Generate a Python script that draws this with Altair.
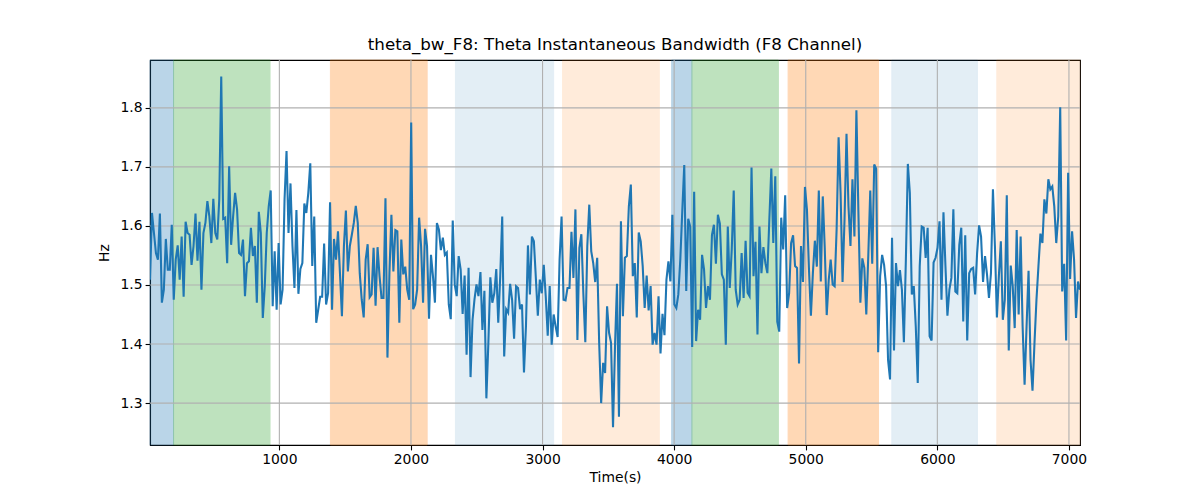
import altair as alt
import pandas as pd

T_START = 17.0
T_END = 7084.0

hz = [
    1.509, 1.622, 1.588, 1.554, 1.543, 1.621, 1.470, 1.492, 1.578, 1.526,
    1.526, 1.602, 1.475, 1.543, 1.567, 1.509, 1.582, 1.480, 1.607, 1.588,
    1.585, 1.534, 1.566, 1.621, 1.541, 1.607, 1.492, 1.588, 1.605, 1.642,
    1.616, 1.571, 1.646, 1.588, 1.577, 1.645, 1.853, 1.612, 1.614, 1.537,
    1.701, 1.568, 1.616, 1.656, 1.628, 1.554, 1.551, 1.577, 1.481, 1.537,
    1.540, 1.597, 1.549, 1.566, 1.470, 1.624, 1.588, 1.444, 1.498, 1.588,
    1.633, 1.660, 1.464, 1.557, 1.458, 1.571, 1.467, 1.492, 1.645, 1.727,
    1.588, 1.672, 1.566, 1.495, 1.627, 1.485, 1.527, 1.537, 1.638, 1.622,
    # segment 2
    1.656, 1.706, 1.532, 1.616, 1.436, 1.458, 1.480, 1.480, 1.570, 1.467,
    1.486, 1.640, 1.458, 1.578, 1.543, 1.591, 1.520, 1.447, 1.566, 1.626,
    1.523, 1.566, 1.585, 1.605, 1.634, 1.605, 1.520, 1.475, 1.445, 1.543,
    1.569, 1.479, 1.484, 1.563, 1.465, 1.564, 1.515, 1.478, 1.478, 1.647,
    1.377, 1.520, 1.619, 1.523, 1.593, 1.591, 1.436, 1.577, 1.518, 1.531,
    1.492, 1.475, 1.775, 1.459, 1.467, 1.492, 1.614, 1.566, 1.470, 1.595,
    1.566, 1.443, 1.551, 1.515, 1.470, 1.605, 1.594, 1.559, 1.580, 1.551,
    1.555, 1.467, 1.442, 1.609, 1.501, 1.481, 1.549,
    # segment 3
    1.526, 1.451, 1.516, 1.382, 1.529, 1.344, 1.441, 1.476, 1.501, 1.481,
    1.522, 1.424, 1.490, 1.308, 1.402, 1.513, 1.470, 1.486, 1.527, 1.436,
    1.515, 1.616, 1.379, 1.459, 1.453, 1.502, 1.475, 1.409, 1.498, 1.495,
    1.459, 1.467, 1.352, 1.430, 1.567, 1.484, 1.582, 1.574, 1.512, 1.448,
    1.509, 1.486, 1.534, 1.481, 1.414, 1.498, 1.399, 1.450, 1.430, 1.412,
    1.543, 1.616, 1.475, 1.474, 1.495, 1.495, 1.590, 1.512, 1.628, 1.407,
    1.563, 1.586, 1.486, 1.403, 1.566, 1.636, 1.557, 1.537, 1.505, 1.546,
    1.402, 1.300, 1.368, 1.351, 1.464, 1.419,
    # segment 4
    1.402, 1.259, 1.396, 1.502, 1.277, 1.608, 1.447, 1.546, 1.549, 1.633,
    1.670, 1.515, 1.537, 1.445, 1.589, 1.574, 1.532, 1.461, 1.516, 1.457,
    1.498, 1.399, 1.419, 1.399, 1.481, 1.384, 1.451, 1.415, 1.509, 1.540,
    1.506, 1.619, 1.467, 1.461, 1.484, 1.543, 1.625, 1.703, 1.490, 1.612,
    1.599, 1.395, 1.658, 1.405, 1.458, 1.441, 1.551, 1.526, 1.461, 1.498,
    1.475, 1.585, 1.602, 1.536, 1.619, 1.604, 1.518, 1.509, 1.399, 1.599,
    1.495, 1.560, 1.660, 1.492, 1.467, 1.475, 1.554, 1.478, 1.575, 1.487,
    1.481, 1.699, 1.515, 1.573, 1.416, 1.599,
    # segment 5
    1.520, 1.564, 1.537, 1.520, 1.611, 1.697, 1.571, 1.684, 1.438, 1.421,
    1.614, 1.560, 1.652, 1.461, 1.486, 1.571, 1.584, 1.532, 1.529, 1.367,
    1.566, 1.505, 1.666, 1.628, 1.529, 1.448, 1.520, 1.575, 1.531, 1.660,
    1.506, 1.650, 1.563, 1.449, 1.508, 1.543, 1.501, 1.498, 1.594, 1.750,
    1.656, 1.505, 1.611, 1.756, 1.633, 1.566, 1.679, 1.582, 1.796, 1.625,
    1.470, 1.545, 1.529, 1.450, 1.549, 1.660, 1.536, 1.704, 1.697, 1.386,
    1.515, 1.551, 1.534, 1.498, 1.373, 1.340, 1.580, 1.389, 1.537, 1.498,
    1.525, 1.492, 1.403, 1.543, 1.705,
    # segment 6
    1.656, 1.484, 1.498, 1.430, 1.334, 1.532, 1.599, 1.597, 1.546, 1.597,
    1.413, 1.406, 1.538, 1.546, 1.563, 1.608, 1.475, 1.623, 1.532, 1.448,
    1.492, 1.512, 1.628, 1.489, 1.486, 1.568, 1.597, 1.438, 1.584, 1.406,
    1.520, 1.527, 1.529, 1.484, 1.554, 1.601, 1.582, 1.505, 1.549, 1.518,
    1.478, 1.520, 1.662, 1.566, 1.445, 1.515, 1.574, 1.441, 1.475, 1.652,
    1.389, 1.533, 1.498, 1.427, 1.593, 1.450, 1.582, 1.430, 1.331, 1.430,
    1.524, 1.373, 1.321, 1.402, 1.475, 1.532, 1.587, 1.571, 1.645, 1.621,
    1.679, 1.662, 1.667, 1.633, 1.571, 1.616, 1.801, 1.489, 1.536, 1.406,
    1.690, 1.510, 1.591, 1.543, 1.444, 1.506, 1.492,
]

n = len(hz)
step = (T_END - T_START) / (n - 1)
times = [T_START + i * step for i in range(n)]

span_start = [17, 196, 1388, 2338, 3152, 3981, 4135, 4866, 5654, 6452]
span_end = [196, 929, 2123, 3084, 3887, 4135, 4792, 5553, 6305, 7084]
span_color = ["#1f77b4", "#2ca02c", "#ff7f0e", "#1f77b4", "#ff7f0e",
              "#1f77b4", "#2ca02c", "#ff7f0e", "#1f77b4", "#ff7f0e"]
span_alpha = [0.3, 0.3, 0.3, 0.12, 0.15, 0.3, 0.3, 0.3, 0.12, 0.15]

x_ticks = [1000, 2000, 3000, 4000, 5000, 6000, 7000]
y_ticks = [1.3, 1.4, 1.5, 1.6, 1.7, 1.8]
y_domain = [1.229, 1.881]

line_df = pd.DataFrame({"t": times, "hz": hz})
span_df = pd.DataFrame({"s": span_start, "e": span_end, "c": span_color, "a": span_alpha})
xgrid_df = pd.DataFrame({"t": x_ticks})
ygrid_df = pd.DataFrame({"hz": y_ticks})

FONT = "DejaVu Sans"
axis_common = dict(
    grid=False,
    tickColor="black", tickSize=4.9, tickWidth=1.1,
    domainColor="black", domainWidth=1.1,
    labelFont=FONT, labelFontSize=13.9, labelColor="black", labelPadding=3,
    titleFont=FONT, titleFontSize=13.9, titleFontWeight="normal", titleColor="black",
)

x_scale = alt.Scale(domain=[T_START, T_END], nice=False, zero=False)
y_scale = alt.Scale(domain=y_domain, nice=False, zero=False)
x_axis = alt.Axis(values=x_ticks, format="d", title="Time(s)", titlePadding=4, **axis_common)
y_axis = alt.Axis(values=y_ticks, format=".1f", title="Hz", titlePadding=9, **axis_common)

spans = alt.Chart(span_df).mark_rect(strokeWidth=1).encode(
    x=alt.X("s:Q", scale=x_scale, axis=x_axis),
    x2="e:Q",
    color=alt.Color("c:N", scale=None),
    stroke=alt.Stroke("c:N", scale=None),
    opacity=alt.Opacity("a:Q", scale=None),
)

xgrid = alt.Chart(xgrid_df).mark_rule(color="#b0b0b0", strokeWidth=1.1).encode(
    x=alt.X("t:Q", scale=x_scale)
)
ygrid = alt.Chart(ygrid_df).mark_rule(color="#b0b0b0", strokeWidth=1.1).encode(
    y=alt.Y("hz:Q", scale=y_scale)
)

line = alt.Chart(line_df).mark_line(color="#1f77b4", strokeWidth=2.08, clip=True).encode(
    x=alt.X("t:Q", scale=x_scale, axis=x_axis),
    y=alt.Y("hz:Q", scale=y_scale, axis=y_axis),
)

chart = alt.layer(spans, xgrid, ygrid, line).properties(
    width=930, height=385,
    title=alt.TitleParams("theta_bw_F8: Theta Instantaneous Bandwidth (F8 Channel)",
                          font=FONT, fontSize=16.7, fontWeight="normal", color="black",
                          anchor="middle", offset=6),
    autosize=alt.AutoSizeParams(type="none"),
    padding={"left": 142, "top": 52, "right": 112, "bottom": 47},
).configure_view(stroke="black", strokeWidth=1.1)

chart.save("out.html", embed_options={"renderer": "svg", "actions": False})
